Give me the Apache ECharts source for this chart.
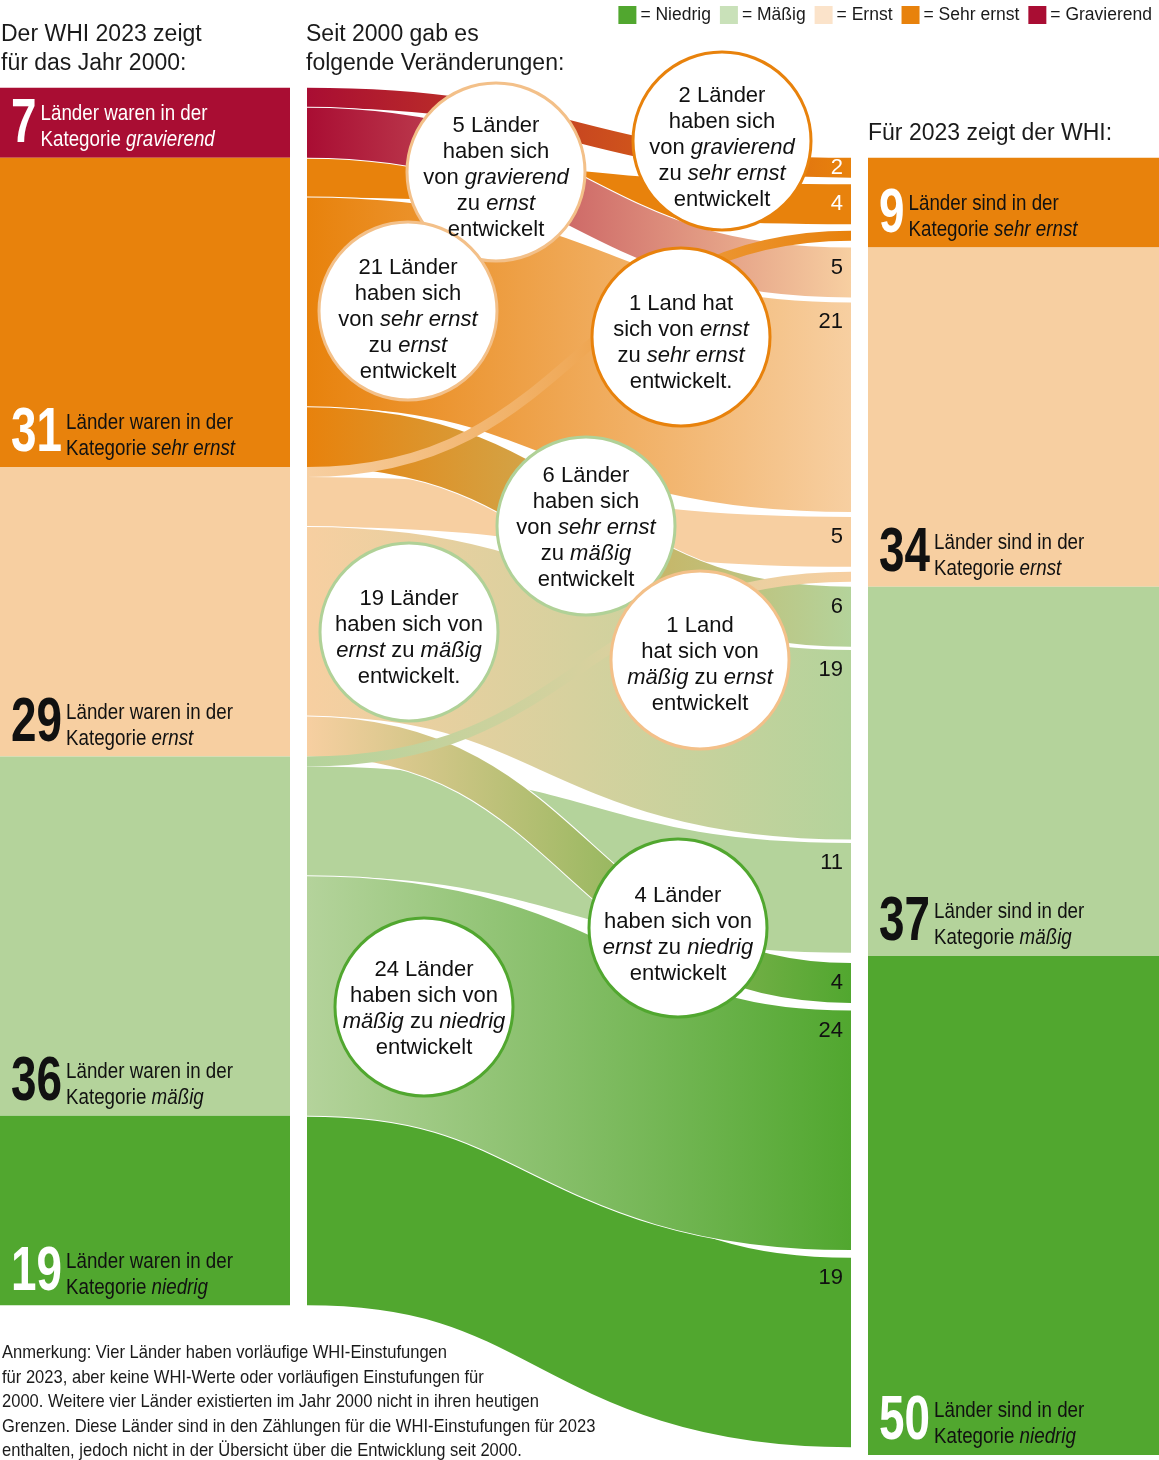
<!DOCTYPE html>
<html>
<head>
<meta charset="utf-8">
<title>WHI 2000 - 2023</title>
<script src="https://cdn.jsdelivr.net/npm/echarts@6.0.0/dist/echarts.min.js"></script>
<style>
html,body{margin:0;padding:0;background:#fff;}
#chart{width:1159px;height:1460px;}
</style>
</head>
<body>
<div id="chart"></div>
<script>
// categories, worst first
const categories = ['gravierend', 'sehr ernst', 'ernst', 'mäßig', 'niedrig'];
const legendNames = ['Niedrig', 'Mäßig', 'Ernst', 'Sehr ernst', 'Gravierend'];
// countries per category
const count2000 = [7, 31, 29, 36, 19];
const count2023 = [0, 9, 34, 37, 50];
// changes since 2000: from category -> to category, number of countries
const flowFrom  = [0, 0, 1, 1, 1, 2, 2, 2, 2, 3, 3, 3, 4];
const flowTo    = [1, 2, 1, 2, 3, 1, 2, 3, 4, 2, 3, 4, 4];
const flowCount = [2, 5, 4, 21, 6, 1, 5, 19, 4, 1, 11, 24, 19];
// the bubbles: which flow they describe and their text
const noteFlow = [1, 0, 3, 5, 4, 7, 9, 8, 11];
const noteText = [
  '5 Länder\nhaben sich\nvon {i|gravierend}\nzu {i|ernst}\nentwickelt',
  '2 Länder\nhaben sich\nvon {i|gravierend}\nzu {i|sehr ernst}\nentwickelt',
  '21 Länder\nhaben sich\nvon {i|sehr ernst}\nzu {i|ernst}\nentwickelt',
  '1 Land hat\nsich von {i|ernst}\nzu {i|sehr ernst}\nentwickelt.',
  '6 Länder\nhaben sich\nvon {i|sehr ernst}\nzu {i|mäßig}\nentwickelt',
  '19 Länder\nhaben sich von\n{i|ernst} zu {i|mäßig}\nentwickelt.',
  '1 Land\nhat sich von\n{i|mäßig} zu {i|ernst}\nentwickelt',
  '4 Länder\nhaben sich von\n{i|ernst} zu {i|niedrig}\nentwickelt',
  '24 Länder\nhaben sich von\n{i|mäßig} zu {i|niedrig}\nentwickelt'
];
const footnote = 'Anmerkung: Vier Länder haben vorläufige WHI-Einstufungen\n' +
  'für 2023, aber keine WHI-Werte oder vorläufigen Einstufungen für\n' +
  '2000. Weitere vier Länder existierten im Jahr 2000 nicht in ihren heutigen\n' +
  'Grenzen. Diese Länder sind in den Zählungen für die WHI-Einstufungen für 2023\n' +
  'enthalten, jedoch nicht in der Übersicht über die Entwicklung seit 2000.';

// ---- styles / layout ----
const catColor = ['#a90d33', '#e8820c', '#f7cfa1', '#b4d39b', '#51a72f'];
const ringColor = ['#a90d33', '#e8820c', '#f3c089', '#b0d197', '#51a72f'];
const legendColor = ['#51a72f', '#c9e1b9', '#fbe3ca', '#e8820c', '#a90d33'];
const numColor = ['#fff', '#fff', '#111', '#111', '#fff'];
const txtColor = ['#fff', '#111', '#111', '#111', '#111'];
const X = {left: [0, 290], flow: [307, 851], right: [868, 1159], label: 843};
const RIGHT_TOP = count2000[0]; // 2023 column starts level with "sehr ernst"
const leadGap = [0, 0, 0, 0, 0.7]; // space above the first incoming flow (units)
// bubble centre x, centre y, text centre y
const notePos = [[496, 172, 178], [722, 141, 148], [408, 311, 320], [681, 337, 343],
  [586, 526, 528], [409, 632, 638], [700, 660, 665], [678, 928, 935], [424, 1007, 1009]];
const drawOrder = [12, 10, 6, 2, 11, 3, 7, 0, 1, 4, 8, 5, 9];

// ---- fonts ----
const ctx = document.createElement('canvas').getContext('2d');
function textWidth(t, font) { ctx.font = font; return ctx.measureText(t).width; }
function hasFont(name) {
  return textWidth('Länder waren 2023', '40px "' + name + '", monospace') !==
         textWidth('Länder waren 2023', '40px monospace');
}
const NARROW = hasFont('Liberation Sans Narrow');
const NFONT = NARROW ? '"Liberation Sans Narrow"' : '"Liberation Sans"';
const SANS = '"Liberation Sans", Arial, sans-serif';
const blkSize = NARROW ? 24 : 22.5;
const noteSize = NARROW ? 20 : 19;
const numSize = 63;
const sxBlk = 167 / textWidth('Länder waren in der', blkSize + 'px ' + NFONT);
const sxNum = 51 / textWidth('29', 'bold ' + numSize + 'px ' + NFONT);
const sxNote = 445 / textWidth('Anmerkung: Vier Länder haben vorläufige WHI-Einstufungen', noteSize + 'px ' + NFONT);

// ---- layout of blocks and flows in country units ----
let acc = 0;
const leftStart = count2000.map(n => { const s = acc; acc += n; return s; });
acc = RIGHT_TOP;
const rightStart = count2023.map(n => { const s = acc; acc += n; return s; });

const flows = flowCount.map((n, i) => ({i: i, from: flowFrom[i], to: flowTo[i], n: n}));
const srcOff = leftStart.slice();
flows.slice().sort((a, b) => a.from - b.from || a.to - b.to).forEach(f => {
  f.s0 = srcOff[f.from]; f.s1 = f.s0 + f.n; srcOff[f.from] += f.n;
});
categories.forEach((c, k) => {
  const inc = flows.filter(f => f.to === k).sort((a, b) => a.from - b.from);
  if (!inc.length) return;
  const sum = inc.reduce((s, f) => s + f.n, 0);
  const gap = (count2023[k] - sum - leadGap[k]) / inc.length;
  let off = rightStart[k] + leadGap[k];
  inc.forEach(f => { f.t0 = off; f.t1 = off + f.n; off += f.n + gap; });
});

const flowData = drawOrder.map(i => {
  const f = flows[i];
  return [f.s0, f.s1, f.t0, f.t1, f.from, f.to, f.n];
});
const blockData = [];
count2000.forEach((n, c) => blockData.push([0, leftStart[c], leftStart[c] + n, c, n]));
count2023.forEach((n, c) => { if (n > 0) blockData.push([1, rightStart[c], rightStart[c] + n, c, n]); });

function renderFlow(params, api) {
  const a0 = api.value(0), a1 = api.value(1), b0 = api.value(2), b1 = api.value(3);
  const from = api.value(4), to = api.value(5), n = api.value(6);
  const pa0 = api.coord([X.flow[0], a0]), pa1 = api.coord([X.flow[0], a1]);
  const pb0 = api.coord([X.flow[1], b0]), pb1 = api.coord([X.flow[1], b1]);
  const xa = pa0[0], xb = pb0[0], xm = (xa + xb) / 2;
  const ya = (pa0[1] + pa1[1]) / 2, yb = (pb0[1] + pb1[1]) / 2;
  const w = pa1[1] - pa0[1];
  const shape = {x1: xa, y1: ya, cpx1: xm, cpy1: ya, cpx2: xm, cpy2: yb, x2: xb, y2: yb};
  const color = from === to ? catColor[from] : new echarts.graphic.LinearGradient(xa, 0, xb, 0, [
    {offset: 0, color: catColor[from]}, {offset: 1, color: catColor[to]}], true);
  const children = [];
  if (n > 1) {
    children.push({type: 'bezierCurve', shape: shape,
      style: {fill: null, stroke: '#fff', lineWidth: w + 2, lineCap: 'butt'}});
  }
  children.push({type: 'bezierCurve', shape: shape,
    style: {fill: null, stroke: color, lineWidth: w, lineCap: 'butt'}});
  if (n > 1) {
    const ly = api.coord([X.label, b0 + Math.min(n / 2, 2)])[1];
    children.push({
      type: 'text', z2: 50, x: X.label, y: ly,
      style: {text: String(n), fontFamily: SANS, fontSize: 22, fill: to === 1 ? '#fff' : '#111',
        align: 'right', verticalAlign: 'middle'}
    });
  }
  return {type: 'group', children: children};
}

function renderBlock(params, api) {
  const side = api.value(0), y0 = api.value(1), y1 = api.value(2), c = api.value(3), n = api.value(4);
  const xr = side ? X.right : X.left;
  const p0 = api.coord([xr[0], y0]), p1 = api.coord([xr[1], y1]);
  const numX = xr[0] + 11;
  const numW = textWidth(String(n), 'bold ' + numSize + 'px ' + NFONT) * sxNum;
  const verb = side ? 'sind' : 'waren';
  return {
    type: 'group',
    children: [
      {type: 'rect', shape: {x: p0[0], y: p0[1], width: p1[0] - p0[0], height: p1[1] - p0[1]},
        style: {fill: catColor[c]}},
      {type: 'text', x: numX, y: p1[1] - 33, scaleX: sxNum,
        style: {text: String(n), fontFamily: NFONT, fontWeight: 'bold', fontSize: numSize,
          fill: numColor[c], align: 'left', verticalAlign: 'middle'}},
      {type: 'text', x: numX + numW + 4, y: p1[1] - 31, scaleX: sxBlk,
        style: {text: 'Länder ' + verb + ' in der\nKategorie {i|' + categories[c] + '}',
          rich: {i: {font: 'italic ' + blkSize + 'px ' + NFONT, fill: txtColor[c], lineHeight: 26}},
          fontFamily: NFONT, fontSize: blkSize, lineHeight: 26, fill: txtColor[c],
          align: 'left', verticalAlign: 'middle'}}
    ]
  };
}

const graphics = [
  {type: 'text', x: 1, y: 49.5, z: 100, style: {text: 'Der WHI 2023 zeigt\nfür das Jahr 2000:',
    fontFamily: SANS, fontSize: 23, lineHeight: 29, fill: '#1a1a1a', verticalAlign: 'middle'}},
  {type: 'text', x: 306, y: 49.5, z: 100, style: {text: 'Seit 2000 gab es\nfolgende Veränderungen:',
    fontFamily: SANS, fontSize: 23, lineHeight: 29, fill: '#1a1a1a', verticalAlign: 'middle'}},
  {type: 'text', x: 868, y: 134, z: 100, style: {text: 'Für 2023 zeigt der WHI:',
    fontFamily: SANS, fontSize: 23, fill: '#1a1a1a', verticalAlign: 'middle'}},
  {type: 'text', x: 2, y: 1402, z: 100, scaleX: sxNote, style: {text: footnote,
    fontFamily: NFONT, fontSize: noteSize, lineHeight: 24.5, fill: '#1a1a1a', verticalAlign: 'middle'}}
];
noteText.forEach((t, k) => {
  const p = notePos[k];
  graphics.push({type: 'circle', z: 100, shape: {cx: p[0], cy: p[1], r: 89},
    style: {fill: '#fff', stroke: ringColor[flowTo[noteFlow[k]]], lineWidth: 3}});
  graphics.push({type: 'text', z: 101, x: p[0], y: p[2],
    style: {text: t, rich: {i: {font: 'italic 22px ' + SANS, fill: '#111', lineHeight: 26}},
      fontFamily: SANS, fontSize: 22, lineHeight: 26, fill: '#111', align: 'center', verticalAlign: 'middle'}});
});

const chart = echarts.init(document.getElementById('chart'), null, {renderer: 'canvas'});
chart.setOption({
  animation: false,
  grid: {left: 0, right: 0, top: 0, bottom: 0},
  xAxis: {type: 'value', min: 0, max: 1159, show: false},
  yAxis: {type: 'value', min: -8.8, max: 137.5, inverse: true, show: false},
  legend: {
    right: 2, top: 1, icon: 'rect', itemWidth: 18, itemHeight: 18, itemGap: 9,
    data: legendNames, formatter: name => '= ' + name,
    textStyle: {fontFamily: NFONT, fontSize: NARROW ? 20 : 17.5, color: '#1a1a1a', padding: [0, 0, 0, -1]}
  },
  graphic: graphics,
  series: [
    {type: 'custom', name: 'blocks', renderItem: renderBlock, data: blockData, clip: false, silent: true},
    {type: 'custom', name: 'flows', renderItem: renderFlow, data: flowData, clip: false, silent: true}
  ].concat(legendNames.map((name, i) => ({
    type: 'bar', name: name, data: [], itemStyle: {color: legendColor[i]}
  })))
});
</script>
</body>
</html>
